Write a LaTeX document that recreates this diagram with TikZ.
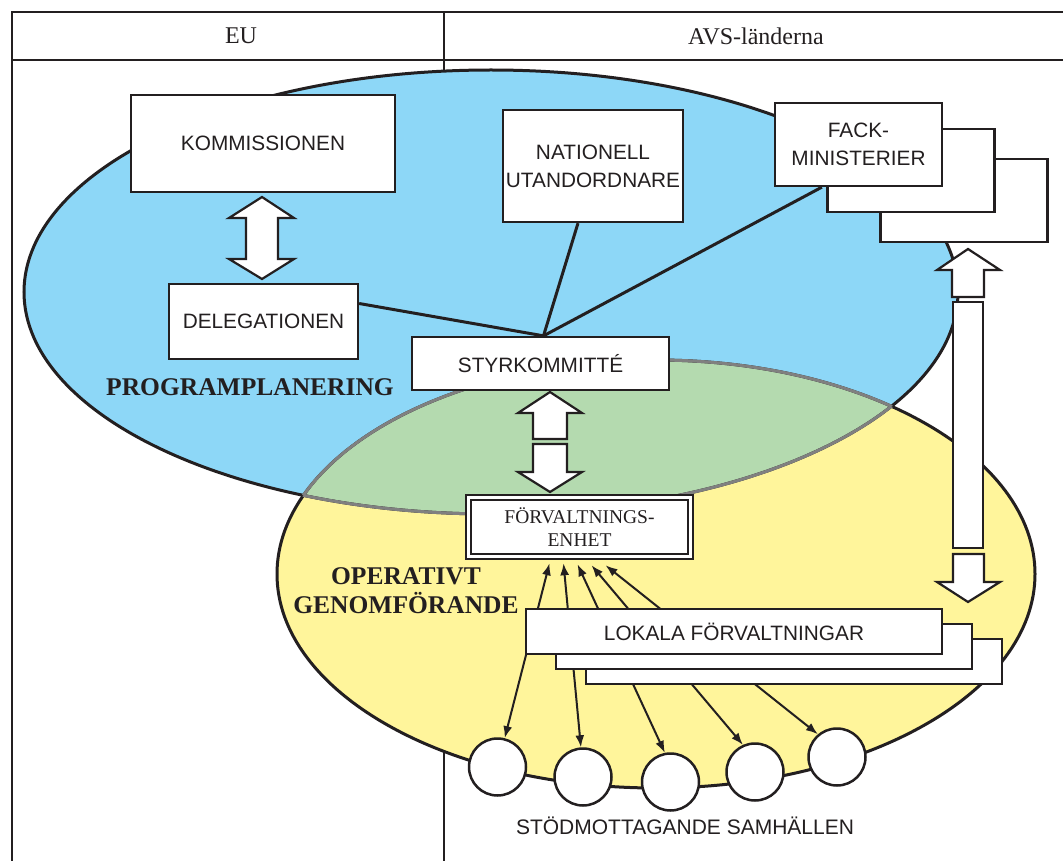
\documentclass[tikz,border=0pt]{standalone}
\usepackage{fontspec}
\setmainfont{Liberation Serif}
\newfontfamily\lsans{Liberation Sans}
\usetikzlibrary{calc,arrows.meta}
\definecolor{blueF}{RGB}{141,215,247}
\definecolor{yellowF}{RGB}{255,245,155}
\definecolor{greenF}{RGB}{180,218,175}
\definecolor{grayL}{RGB}{128,128,128}
\definecolor{ink}{RGB}{35,31,32}
\begin{document}
\begin{tikzpicture}[x=1pt,y=-1pt,
  box/.style={draw=ink, fill=white, line width=2.3pt, inner sep=0pt, align=center,
    text=ink, font=\lsans\fontsize{20.8}{28}\selectfont},
  blk/.style={draw=ink, fill=white, line width=2.2pt, line join=miter},
  conn/.style={draw=ink, line width=3pt},
  sarr/.style={draw=ink, line width=2pt, {Latex[length=12pt,width=9pt]}-{Latex[length=12pt,width=9pt]}},
  frame/.style={draw=ink, line width=1.8pt},
  ell/.style={line width=3pt},
  circ/.style={circle, draw=ink, fill=white, line width=2.5pt, minimum size=57pt, inner sep=0pt},
  hdr/.style={text=ink, font=\fontsize{24}{28}\selectfont},
  big/.style={text=ink, align=center, font=\bfseries\fontsize{25.5}{29}\selectfont}]
\useasboundingbox (0,0) rectangle (1063,861);
\fill[white] (0,0) rectangle (1063,861);

% frame
\draw[frame] (12,861) -- (12,12) -- (1063,12);
\draw[frame] (12,60) -- (1063,60);
\draw[frame] (444,12) -- (444,861);
\node[hdr] (eu) at (241,36) {EU};
\node[hdr] (avs) at (756,36) {AVS-länderna};

% ellipses
\def\blueE{(491,292) ellipse [x radius=467pt, y radius=222pt]}
\def\yellE{(656,574) ellipse [x radius=379pt, y radius=214pt]}
\fill[blueF] \blueE;
\fill[yellowF] \yellE;
\begin{scope}
  \clip \blueE;
  \fill[greenF] \yellE;
\end{scope}
\draw[ell, ink] \blueE;
\draw[ell, ink] \yellE;
\begin{scope}
  \clip \yellE;
  \draw[ell, grayL] \blueE;
\end{scope}
\begin{scope}
  \clip \blueE;
  \draw[ell, grayL] \yellE;
\end{scope}

% boxes
\node[box, minimum width=264pt, minimum height=97pt] (kom) at (263,143.5) {KOMMISSIONEN};
\node[box, minimum width=189pt, minimum height=75pt] (del) at (263.5,321.5) {DELEGATIONEN};
\node[box, minimum width=180pt, minimum height=112pt] (nat) at (593,166) {NATIONELL\\UTANDORDNARE};
\node[box, minimum width=167pt, minimum height=83pt] (fack3) at (964,200.5) {};
\node[box, minimum width=167pt, minimum height=83pt] (fack2) at (911,170.5) {};
\node[box, minimum width=167pt, minimum height=83pt] (fack) at (858.5,144.5) {FACK-\\MINISTERIER};
\node[box, minimum width=257pt, minimum height=53pt] (styr) at (540.5,363.5) {STYRKOMMITTÉ};

% connectors to STYRKOMMITTE
\coordinate (meet) at ($(styr.north)+(3,0)$);
\draw[conn] ($(del.east)+(0,-18)$) -- (meet);
\draw[conn] ($(nat.south)+(-15,0)$) -- (meet);
\draw[conn] ($(fack.south west)+(48,0)$) -- (meet);

% FORVALTNINGSENHET
\node[draw=ink, line width=1.5pt, double=white, double distance=3.5pt, fill=white,
  minimum width=222pt, minimum height=59pt, inner sep=0pt, align=center, text=ink,
  font=\fontsize{19.5}{23}\selectfont] (f) at (579.5,527) {FÖRVALTNINGS-\\ENHET};

% circles
\node[circ] (c1) at (497.5,767) {};
\node[circ] (c2) at (583,777) {};
\node[circ] (c3) at (670.5,782) {};
\node[circ] (c4) at (755,772) {};
\node[circ] (c5) at (837,757) {};

% small arrows
\draw[sarr] (c1.76) -- ($(f.south)+(-30,6)$);
\draw[sarr] (c2.94) -- ($(f.south)+(-16,6)$);
\draw[sarr] (c3.101) -- ($(f.south)+(-2,7)$);
\draw[sarr] (c4.114) -- ($(f.south)+(12,8)$);
\draw[sarr] (c5.130) -- ($(f.south)+(26,8)$);

% LOKALA
\node[box, minimum width=416pt, minimum height=45pt] (lok3) at (794,661.5) {};
\node[box, minimum width=416pt, minimum height=45pt] (lok2) at (764,646.5) {};
\node[box, minimum width=416pt, minimum height=45pt] (lok) at (734,631.5) {LOKALA FÖRVALTNINGAR};

% block arrows
\draw[blk] (262,197) -- (294,218) -- (278,218) -- (278,259) -- (294,259) -- (262,279)
  -- (229,259) -- (246,259) -- (246,218) -- (229,218) -- cycle;
\draw[blk] (550,392) -- (582,413) -- (567,413) -- (567,439) -- (533,439) -- (533,413) -- (518,413) -- cycle;
\draw[blk] (533,444) -- (567,444) -- (567,472) -- (582,472) -- (550,492) -- (518,472) -- (533,472) -- cycle;
\draw[blk] (968,249) -- (1000,270) -- (984,270) -- (984,297) -- (952,297) -- (952,270) -- (937,270) -- cycle;
\draw[blk] (953,302) rectangle (983,548);
\draw[blk] (953,554) -- (984,554) -- (984,582) -- (1000,582) -- (968,602) -- (937,582) -- (953,582) -- cycle;

% labels
\node[big] (prog) at (250,387) {PROGRAMPLANERING};
\node[big] (oper) at (406,591) {OPERATIVT\\GENOMFÖRANDE};
\node[text=ink, font=\lsans\fontsize{21}{25}\selectfont] (stod) at (685,826) {STÖDMOTTAGANDE SAMHÄLLEN};
\end{tikzpicture}
\end{document}
